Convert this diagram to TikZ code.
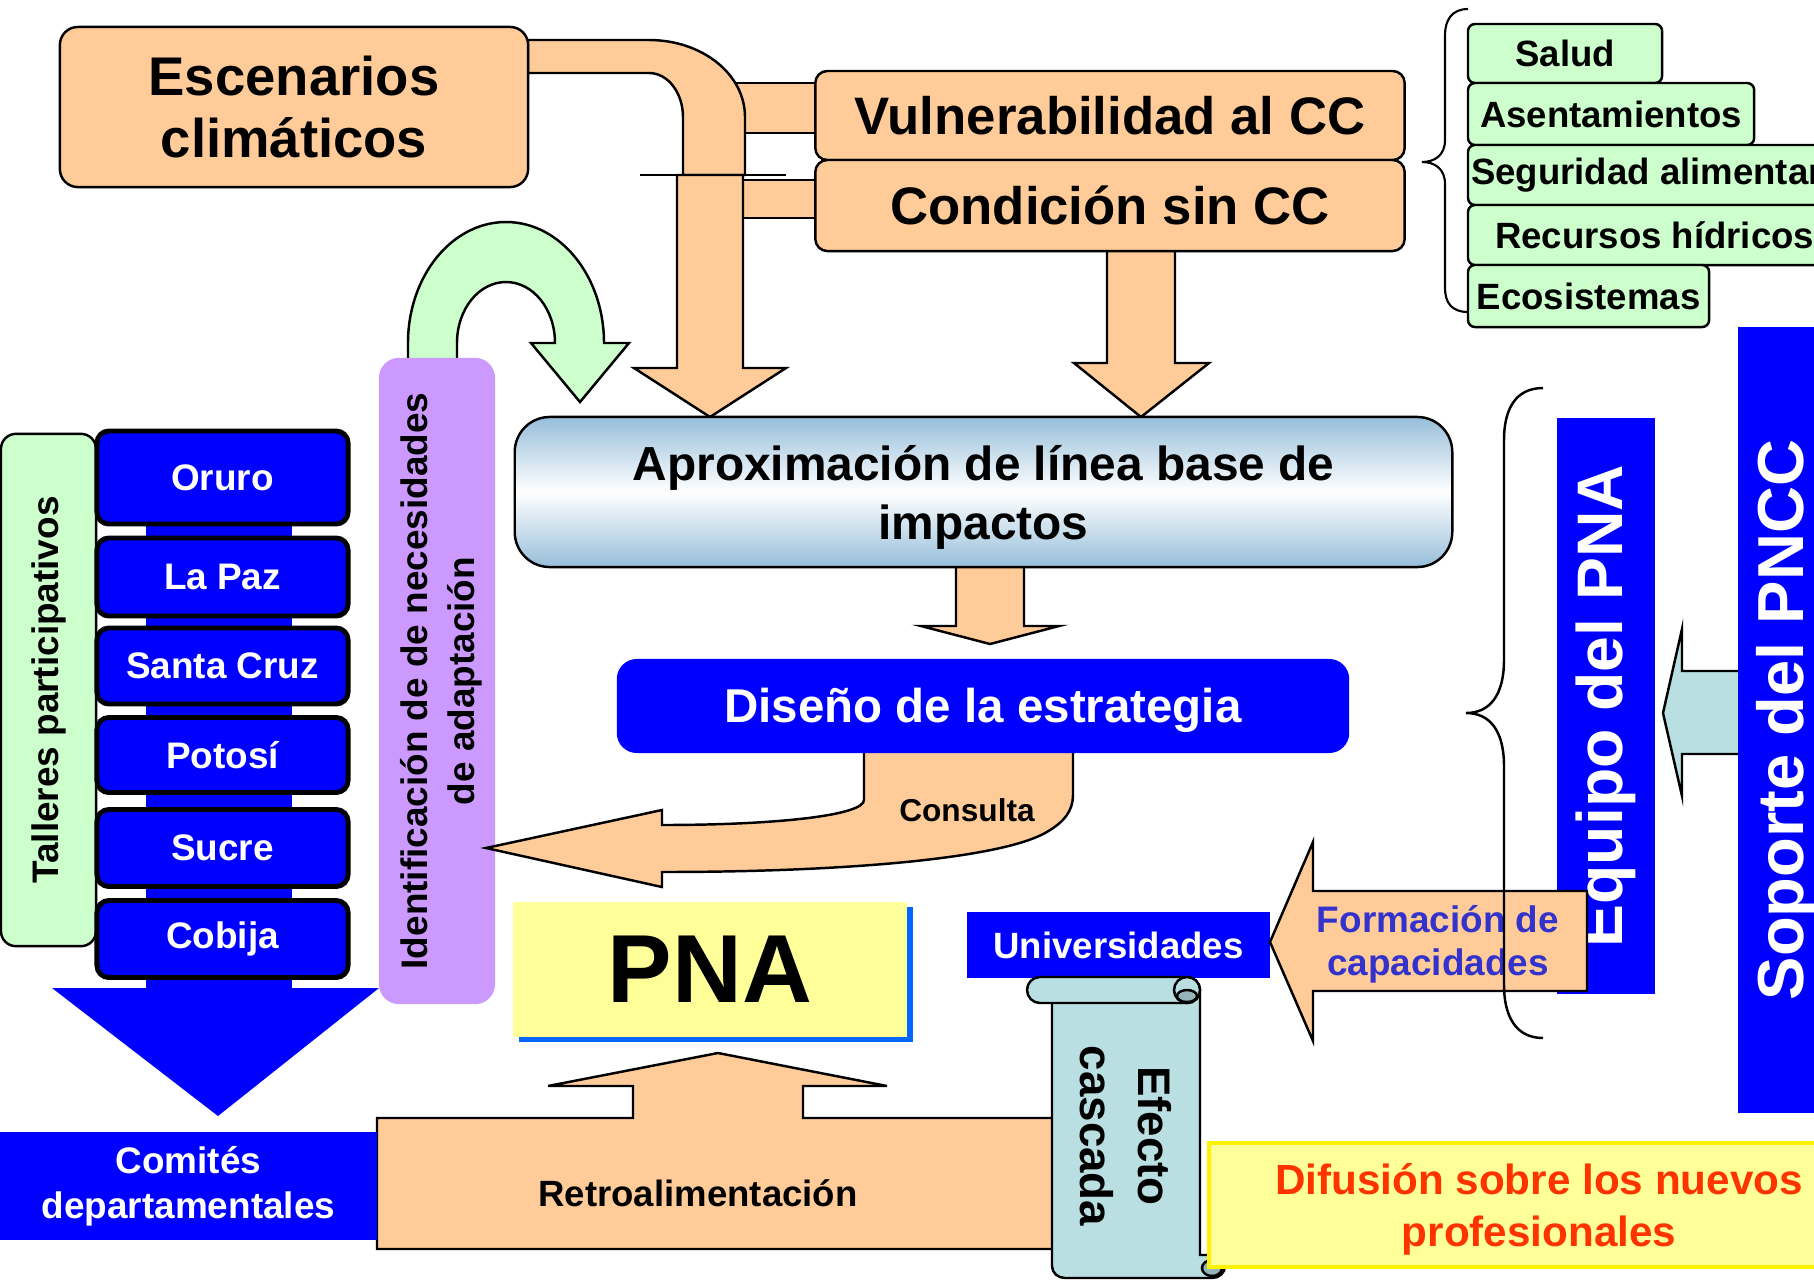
\documentclass[tikz,border=0pt]{standalone}
\usepackage{fontspec}
\setmainfont{Liberation Sans}

\definecolor{peach}{RGB}{255,204,153}
\definecolor{lgreen}{RGB}{204,255,204}
\definecolor{lilac}{RGB}{204,153,255}
\definecolor{pblue}{RGB}{0,0,255}
\definecolor{lyellow}{RGB}{255,255,153}
\definecolor{scrollc}{RGB}{185,223,226}
\definecolor{scrolld}{RGB}{148,182,186}
\definecolor{aprox}{RGB}{150,190,218}
\definecolor{formc}{RGB}{51,51,204}
\definecolor{difc}{RGB}{255,51,0}
\definecolor{pnashadow}{RGB}{0,102,255}

\begin{document}
\begin{tikzpicture}[x=0.01cm, y=-0.01cm, line width=0.7pt,
    box/.style={inner sep=0pt, outer sep=0pt, align=center},
    peachbox/.style={box, draw, fill=peach, rounded corners=0.18cm},
    greenbox/.style={box, draw, fill=lgreen, rounded corners=0.07cm, anchor=west, font=\fontsize{10.4}{12.5}\selectfont\bfseries},
    citybox/.style={box, draw, fill=pblue, text=white, line width=1.4pt, rounded corners=0.12cm, minimum width=2.51cm, font=\fontsize{10.5}{12.6}\selectfont\bfseries},
    bluebox/.style={box, fill=pblue, text=white},
    blockarrow/.style={draw, fill=peach}]

    \useasboundingbox (0,0) rectangle (1814,1281);
    \clip (0,0) rectangle (1814,1281);

    % scenarios and conditions
    \draw[blockarrow] (736,83) -- (815,83) -- (815,133) -- (736,133);
    \draw[blockarrow] (736,180) -- (815,180) -- (815,218) -- (736,218);
    \draw[blockarrow] (528,40) -- (649,40) .. controls (702,40) and (745,74) .. (745,117) -- (745,175) -- (683,175) -- (683,117) .. controls (683,93) and (668,73) .. (649,73) -- (528,73) -- cycle;
    \draw[blockarrow] (677,175) -- (677,368) -- (634,368) -- (710,417) -- (786,368) -- (743,368) -- (743,175) -- cycle;
    \draw (640,175) -- (786,175);
    \draw[blockarrow] (1107,245) -- (1107,363) -- (1074,363) -- (1141,417) -- (1209,363) -- (1175,363) -- (1175,245) -- cycle;

    \draw (294,107) node[peachbox, minimum width=4.68cm, minimum height=1.6cm, font=\fontsize{15.5}{17.9}\selectfont\bfseries] (E) {Escenarios\\climáticos};
    \draw (1110,115.5) node[peachbox, rounded corners=0.12cm, minimum width=5.89cm, minimum height=0.89cm, font=\fontsize{15}{18}\selectfont\bfseries] (V) {Vulnerabilidad al CC};
    \draw (1110,205.5) node[peachbox, rounded corners=0.12cm, minimum width=5.89cm, minimum height=0.91cm, font=\fontsize{15}{18}\selectfont\bfseries] (C) {Condición sin CC};

    % sectors
    \draw[line width=0.6pt] (1468,9) .. controls (1452,9) and (1445,20) .. (1445,35) -- (1445,140) .. controls (1445,155) and (1435,162) .. (1422,162) .. controls (1435,162) and (1445,169) .. (1445,184) -- (1445,288) .. controls (1445,303) and (1452,312) .. (1468,312);
    \draw (1468,53.5) node[greenbox, minimum width=1.94cm, minimum height=0.59cm] (S1) {Salud};
    \draw (1468,114) node[greenbox, minimum width=2.86cm, minimum height=0.62cm] (S2) {Asentamientos};
    \draw (1468,175) node[greenbox, minimum width=3.88cm, minimum height=0.6cm] (S3) {Seguridad alimentaria};
    \draw (1468,235) node[greenbox, minimum width=3.73cm, minimum height=0.6cm] (S4) {Recursos hídricos};
    \draw (1468,296) node[greenbox, minimum width=2.41cm, minimum height=0.62cm] (S5) {Ecosistemas};

    % loop back
    \draw[fill=lgreen] (408,362) -- (408,343) .. controls (408,276) and (452,222) .. (506,222) .. controls (560,222) and (604,276) .. (604,343) -- (629,343) -- (580,402) -- (531,343) -- (555,343) .. controls (555,309) and (533,282) .. (506,282) .. controls (479,282) and (457,309) .. (457,343) -- (457,362) -- cycle;

    % baseline and strategy
    \draw[blockarrow] (956,560) -- (956,626) -- (921,626) -- (990,644) -- (1059,626) -- (1024,626) -- (1024,560) -- cycle;
    \draw (983.5,492) node[box, draw, rounded corners=0.35cm, top color=aprox, bottom color=aprox, middle color=white, minimum width=9.37cm, minimum height=1.5cm] (A) {};
    \draw (A.center) ++(0,5) node[align=center, font=\fontsize{13.6}{16.8}\selectfont\bfseries] (At) {Aproximación de línea base de\\impactos};

    % workshops
    \draw (48.5,690) node[box, draw, fill=lgreen, rounded corners=0.15cm, rotate=90, minimum width=5.12cm, minimum height=0.95cm, font=\fontsize{10.5}{12.6}\selectfont\bfseries] (T) {Talleres participativos};
    \fill[pblue] (146,434) rectangle (292,992);
    \fill[pblue] (52,988) -- (379,988) -- (218,1116) -- cycle;
    \draw (222.5,477.5) node[citybox, minimum height=0.93cm] (D1) {Oruro};
    \draw (222.5,577) node[citybox, minimum height=0.78cm] (D2) {La Paz};
    \draw (222.5,666) node[citybox, minimum height=0.76cm] (D3) {Santa Cruz};
    \draw (222.5,755) node[citybox, minimum height=0.75cm] (D4) {Potosí};
    \draw (222.5,848) node[citybox, minimum height=0.77cm] (D5) {Sucre};
    \draw (222.5,939) node[citybox, minimum height=0.77cm] (D6) {Cobija};

    % adaptation needs
    \draw (437,681) node[box, fill=lilac, rounded corners=0.2cm, rotate=90, minimum width=6.46cm, minimum height=1.16cm] (I) {};
    \draw (I.center) ++(4,0) node[rotate=90, align=center, font=\fontsize{10.5}{13.4}\selectfont\bfseries] (It) {Identificación de de necesidades\\de adaptación};

    % consultation
    \draw[blockarrow] (864,745) -- (864,800) .. controls (864,815) and (780,825) .. (662,825) -- (662,810) -- (486,848) -- (662,887) -- (662,872) .. controls (850,872) and (1000,858) .. (1045,833) .. controls (1065,822) and (1073,810) .. (1073,795) -- (1073,745) -- cycle;
    \draw (983,706) node[bluebox, rounded corners=0.2cm, minimum width=7.32cm, minimum height=0.94cm] (D) {};
    \draw (D.center) ++(0,4) node[text=white, font=\fontsize{13.5}{16}\selectfont\bfseries] (Dt) {Diseño de la estrategia};
    \draw (967,810) node[font=\fontsize{9}{11}\selectfont\bfseries] (K) {Consulta};

    % PNA
    \fill[pnashadow] (519,907) rectangle (913,1042);
    \draw (710,969.5) node[box, fill=lyellow, minimum width=3.94cm, minimum height=1.35cm, font=\fontsize{27.5}{30}\selectfont\bfseries] (P) {PNA};

    % feedback
    \draw[blockarrow] (377,1118) -- (633,1118) -- (633,1086) -- (548,1086) -- (718,1053) -- (887,1086) -- (803,1086) -- (803,1118) -- (1060,1118) -- (1060,1249) -- (377,1249) -- cycle;
    \draw (698,1193) node[font=\fontsize{10.4}{12.5}\selectfont\bfseries] (R) {Retroalimentación};
    \draw (188.5,1186) node[bluebox, minimum width=3.77cm, minimum height=1.08cm, font=\fontsize{10.5}{12.8}\selectfont\bfseries] (M) {Comités\\departamentales};

    % universities and cascade
    \draw (1118.5,945) node[bluebox, minimum width=3.03cm, minimum height=0.65cm, font=\fontsize{10.4}{12.5}\selectfont\bfseries] (U) {Universidades};
    \draw[fill=scrollc] (1052,995) -- (1052,1266) .. controls (1052,1273) and (1058,1278) .. (1065,1278) -- (1212,1278) .. controls (1219,1278) and (1225,1273) .. (1225,1266) .. controls (1225,1260) and (1219,1255) .. (1212,1255) -- (1200,1255) -- (1200,990) -- cycle;
    \draw[fill=scrolld] (1212,1268) ellipse (0.1cm and 0.08cm);
    \draw[fill=scrollc, rounded corners=0.13cm] (1027,977) rectangle (1200,1003);
    \draw[fill=scrollc] (1187,990) circle (0.13cm);
    \draw[fill=scrolld] (1187,996) ellipse (0.1cm and 0.06cm);
    \draw (1126,1136) node[rotate=-90, align=center, font=\fontsize{13}{16.5}\selectfont\bfseries] (F) {Efecto\\cascada};
    \draw[draw=yellow, line width=1.2pt, fill=lyellow] (1209,1143) rectangle (1830,1267);
    \draw (1539,1209) node[text=difc, align=center, font=\fontsize{12}{14.8}\selectfont\bfseries] (N) {Difusión sobre los nuevos\\profesionales};

    % PNA team and support
    \draw (1606,706) node[bluebox, rotate=90, minimum width=5.75cm, minimum height=0.97cm, font=\fontsize{18.3}{22}\selectfont\bfseries] (Q) {Equipo del PNA};
    \draw[blockarrow] (1587,891) -- (1313,891) -- (1313,842) -- (1270,942) -- (1313,1041) -- (1313,991) -- (1587,991) -- cycle;
    \draw (1438,944) node[text=formc, align=center, font=\fontsize{10.5}{12.2}\selectfont\bfseries] (G) {Formación de\\capacidades};
    \draw (1543,388) .. controls (1515,388) and (1504,410) .. (1504,440) -- (1504,660) .. controls (1504,695) and (1490,713) .. (1466,713) .. controls (1490,713) and (1504,731) .. (1504,766) -- (1504,985) .. controls (1504,1015) and (1515,1038) .. (1543,1038);
    \draw[fill=scrollc] (1738,671) -- (1682,671) -- (1682,629) -- (1663,713) -- (1682,796) -- (1682,754) -- (1738,754);
    \fill[pblue] (1738,327) rectangle (1830,1113);
    \draw (1787,720) node[rotate=90, text=white, inner sep=0pt, font=\fontsize{18.5}{22}\selectfont\bfseries] (W) {Soporte del PNCC};

\end{tikzpicture}
\end{document}
